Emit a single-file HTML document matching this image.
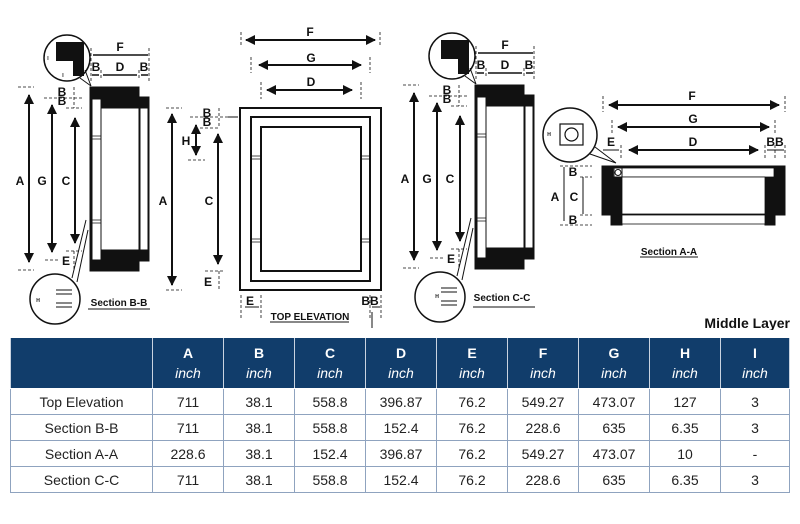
<!DOCTYPE html>
<html><head><meta charset="utf-8"><style>
body{margin:0;width:800px;height:524px;background:#fff;overflow:hidden;position:relative;font-family:"Liberation Sans",Arial,sans-serif}
svg{position:absolute;left:0;top:0}
svg text{font-family:"Liberation Sans",Arial,sans-serif;font-weight:bold;fill:#111}
table{position:absolute;left:10px;top:338px;border-collapse:collapse;table-layout:fixed}
td,th{border:1.5px solid #8fa3bf;text-align:center;font-size:14px;color:#222;padding:0}
th{background:#113d6b;color:#fff;font-weight:bold;height:50px;border-color:#fff #c9d3e0;border-top:none;line-height:20px}
th i{font-weight:normal;font-size:14px}
td{height:25px}
</style></head><body>
<svg width="800" height="330" viewBox="0 0 800 330">
<defs>
<marker id="a" viewBox="0 0 10 10" refX="9" refY="5" markerWidth="5" markerHeight="5" orient="auto-start-reverse"><path d="M0,0L10,5L0,10z" fill="#111"/></marker>
</defs>
<g stroke="#111" fill="none">
<g id="sec">
<path d="M90,87H139V97H149V261H139V271H90Z" fill="#111"/>
<rect x="92" y="99" width="9" height="161" fill="#fff" stroke-width="1"/>
<rect x="101" y="108" width="38" height="142" fill="#fff" stroke-width="1"/>
<rect x="140" y="108" width="8" height="142" fill="#fff" stroke-width="1"/>
<path d="M92,136H101M92,139H101M92,220H101M92,223H101" stroke-width="0.8"/>
<g stroke-width="2" marker-start="url(#a)" marker-end="url(#a)">
<path d="M29,95V262"/><path d="M52,105V252"/><path d="M75,118V243"/>
</g>
<g stroke-width="0.8" stroke-dasharray="3,2">
<path d="M18,87H34M44,98H82M66,108H82M45,260H60M18,270H34M66,251H82"/>
<path d="M74,87V108M74,251V270M91,48V82M149,48V82M101,70V80M139,70V80"/>
</g>
<path d="M93,55H148M103,75H137M92,75H99M141,75H148" stroke-width="1.5"/>
<circle cx="67" cy="58" r="23" fill="#fff" stroke-width="1.5"/>
<path d="M56,42H84V76H73V61H56Z" fill="#111" stroke="none"/>
<path d="M85,70L91,86M80,78L91,86" stroke-width="1"/>
<circle cx="55" cy="299" r="25" fill="#fff" stroke-width="1.5"/>
<path d="M56,290H72M56,294H72M56,303H72M56,307H72" stroke-width="1"/>
<path d="M72,278L86,220M77,282L88,230" stroke-width="1"/>
<path d="M88,309H150" stroke-width="1"/>
</g>
<use href="#sec" transform="translate(385,-2)"/>
<rect x="240" y="108" width="141" height="182" stroke-width="2"/>
<rect x="251" y="117" width="119" height="164" stroke-width="2"/>
<rect x="261" y="127" width="100" height="144" stroke-width="2"/>
<path d="M251,156H261M251,159H261M361,156H370M361,159H370M251,239H261M251,242H261M361,239H370M361,242H370" stroke-width="0.8"/>
<g stroke-width="2" marker-start="url(#a)" marker-end="url(#a)">
<path d="M246,40H375"/><path d="M259,65H361"/><path d="M267,90H352"/>
<path d="M172,114V285"/><path d="M218,134V264"/><path d="M196,125V155"/>
</g>
<g stroke-width="0.8" stroke-dasharray="3,2">
<path d="M241,32V47M380,32V47M251,57V73M370,57V73M261,82V99M361,82V99"/>
<path d="M166,108H182M190,117H236M200,128H218M188,160H205M205,271H225M166,290H182M219,108V128M219,271V290M241,295V318M261,295V318M370,295V318M381,295V318"/>
</g>
<path d="M228,117H238M245,307H259M372,307H380M372,312V328" stroke-width="1"/>
<path d="M270,322H349" stroke-width="1"/>
<path d="M602,166H785V215H775V225H765V215H622V225H611V215H602Z" fill="#111"/>
<rect x="613" y="168" width="161" height="9" fill="#fff" stroke-width="0.8"/>
<rect x="622" y="177" width="143" height="37" fill="#fff" stroke-width="0.8"/>
<rect x="622" y="215" width="143" height="9" fill="#fff" stroke-width="0.8"/>
<rect x="614" y="168" width="8" height="9" fill="#fff" stroke-width="1"/>
<circle cx="618" cy="172.5" r="3" stroke-width="1"/>
<g stroke-width="2" marker-start="url(#a)" marker-end="url(#a)">
<path d="M609,105H779"/><path d="M618,127H769"/><path d="M629,150H758"/>
</g>
<g stroke-width="0.8" stroke-dasharray="3,2">
<path d="M603,96V112M785,96V112M612,120V135M775,120V135M621,145V158M765,145V158M775,145V158M785,145V158"/>
<path d="M560,166H592M560,225H592M580,177H592M580,215H592"/>
</g>
<path d="M564,167V221M583,177V214M603,150H619M767,150H784" stroke-width="1"/>
<circle cx="570" cy="135" r="27" fill="#fff" stroke-width="1.5"/>
<rect x="560" y="124" width="23" height="21" stroke-width="1.2"/>
<circle cx="571.5" cy="134.5" r="6.5" stroke-width="1.2"/>
<path d="M590,154L616,163M595,147L616,163" stroke-width="1"/>
<path d="M640,257H698" stroke-width="1"/>
</g>
<g font-size="12" text-anchor="middle">
<text x="120" y="51">F</text><text x="96" y="71">B</text><text x="120" y="71">D</text><text x="144" y="71">B</text>
<text x="20" y="185">A</text><text x="42" y="185">G</text><text x="66" y="185">C</text>
<text x="62" y="96">B</text><text x="62" y="105">B</text><text x="66" y="265">E</text>
<text x="505" y="49">F</text><text x="481" y="69">B</text><text x="505" y="69">D</text><text x="529" y="69">B</text>
<text x="405" y="183">A</text><text x="427" y="183">G</text><text x="450" y="183">C</text>
<text x="447" y="94">B</text><text x="447" y="103">B</text><text x="451" y="263">E</text>
<text x="310" y="36">F</text><text x="311" y="62">G</text><text x="311" y="86">D</text>
<text x="163" y="205">A</text><text x="209" y="205">C</text><text x="186" y="145">H</text>
<text x="207" y="117">B</text><text x="207" y="126">B</text><text x="208" y="286">E</text>
<text x="250" y="305">E</text><text x="370" y="305">BB</text>
<text x="692" y="100">F</text><text x="693" y="123">G</text><text x="693" y="146">D</text>
<text x="611" y="146">E</text><text x="775" y="146">BB</text>
<text x="555" y="201">A</text><text x="574" y="201">C</text><text x="573" y="176">B</text><text x="573" y="224">B</text>
</g>
<g font-size="5" text-anchor="middle"><text x="48" y="60">I</text><text x="63" y="77">I</text><text x="38" y="302">H</text><text x="549" y="136">H</text><text x="437" y="298">H</text></g>
<g font-size="10" text-anchor="middle">
<text x="119" y="306">Section B-B</text><text x="310" y="320">TOP ELEVATION</text>
<text x="502" y="301">Section C-C</text><text x="669" y="255">Section A-A</text>
</g>
<text x="790" y="328" font-size="14" text-anchor="end">Middle Layer</text>
</svg>
<table>
<colgroup><col style="width:142px"><col style="width:71px"><col style="width:71px"><col style="width:71px"><col style="width:71px"><col style="width:71px"><col style="width:71px"><col style="width:71px"><col style="width:71px"><col style="width:69px"></colgroup>
<tr><th></th><th>A<br><i>inch</i></th><th>B<br><i>inch</i></th><th>C<br><i>inch</i></th><th>D<br><i>inch</i></th><th>E<br><i>inch</i></th><th>F<br><i>inch</i></th><th>G<br><i>inch</i></th><th>H<br><i>inch</i></th><th>I<br><i>inch</i></th></tr>
<tr><td>Top Elevation</td><td>711</td><td>38.1</td><td>558.8</td><td>396.87</td><td>76.2</td><td>549.27</td><td>473.07</td><td>127</td><td>3</td></tr>
<tr><td>Section B-B</td><td>711</td><td>38.1</td><td>558.8</td><td>152.4</td><td>76.2</td><td>228.6</td><td>635</td><td>6.35</td><td>3</td></tr>
<tr><td>Section A-A</td><td>228.6</td><td>38.1</td><td>152.4</td><td>396.87</td><td>76.2</td><td>549.27</td><td>473.07</td><td>10</td><td>-</td></tr>
<tr><td>Section C-C</td><td>711</td><td>38.1</td><td>558.8</td><td>152.4</td><td>76.2</td><td>228.6</td><td>635</td><td>6.35</td><td>3</td></tr>
</table>
</body></html>
